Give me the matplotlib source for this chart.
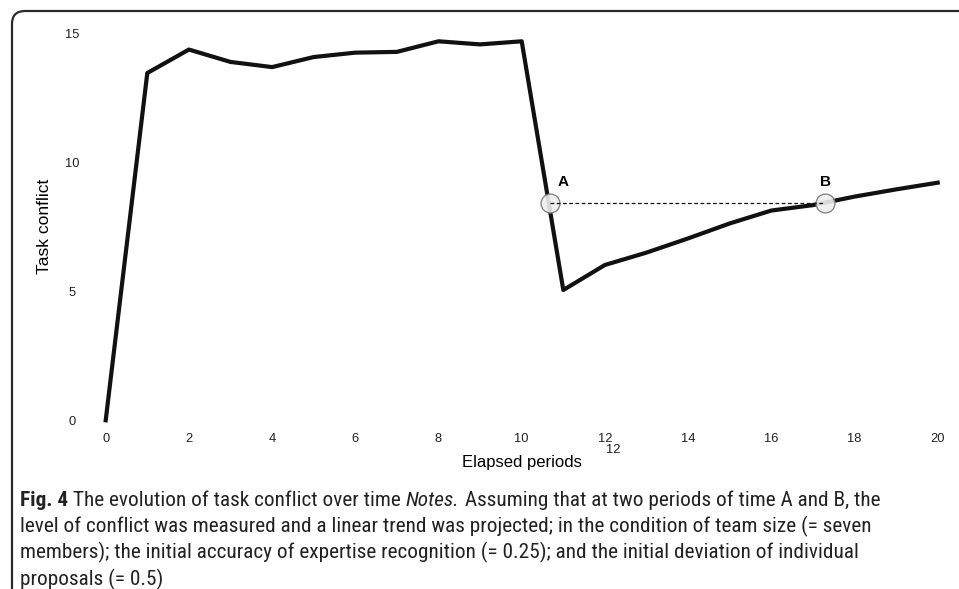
import numpy as np
import matplotlib
matplotlib.use('Agg')
import matplotlib.pyplot as plt
import matplotlib.transforms as mtransforms
from matplotlib.patches import FancyBboxPatch

# data
periods = np.arange(0, 21)
conflict = [0, 13.46, 14.37, 13.89, 13.69, 14.08, 14.25, 14.28, 14.69, 14.57,
            14.69, 5.05, 6.02, 6.5, 7.05, 7.63, 8.13, 8.34, 8.67, 8.95, 9.21]
xticks = np.arange(0, 21, 2)
yticks = [0, 5, 10, 15]
point_labels = ['A', 'B']
point_x = [10.68, 17.3]
point_y = [8.41, 8.41]

caption = [
    [("Fig. 4", "bold", "normal"), (" The evolution of task conflict over time ", "normal", "normal"),
     ("Notes.", "normal", "italic"),
     (" Assuming that at two periods of time A and B, the", "normal", "normal")],
    [("level of conflict was measured and a linear trend was projected; in the condition of team size (= seven",
      "normal", "normal")],
    [("members); the initial accuracy of expertise recognition (= 0.25); and the initial deviation of individual",
      "normal", "normal")],
    [("proposals (= 0.5)", "normal", "normal")],
]

plt.rcParams['font.family'] = ['Liberation Sans', 'DejaVu Sans']

W, H = 959, 589
fig = plt.figure(figsize=(W / 100, H / 100), dpi=100)

# rounded frame (only top-left corner visible)
frame = FancyBboxPatch((0.12, -0.5), 10.5, 6.28, boxstyle="round,pad=0,rounding_size=0.13",
                       transform=fig.dpi_scale_trans, facecolor='none',
                       edgecolor='#2a2a2a', lw=1.6)
fig.patches.append(frame)

ax = fig.add_axes([105.7 / W, (H - 420.3) / H, 832 / W, 387 / H])
ax.plot(periods, conflict, color='#111111', lw=3, clip_on=False, zorder=3)
ax.scatter(point_x, point_y, s=185, facecolor='#eeeeee', edgecolor='#7a7a7a',
           lw=1, zorder=4, alpha=0.9)
ax.plot(point_x, point_y, color='#111111', lw=0.9, ls=(0, (3, 2)), zorder=5)
for lab, px, py, dx in zip(point_labels, point_x, point_y, [9.5, 0]):
    ax.annotate(lab, (px, py), xytext=(dx, 15), textcoords='offset points',
                ha='center', va='center', fontsize=11, fontweight='bold')

ax.set_xlim(0, 20)
ax.set_ylim(0, 15)
for s in ax.spines.values():
    s.set_visible(False)
ax.set_xticks(xticks)
ax.set_yticks(yticks)
ax.tick_params(axis='x', length=0, pad=9, labelsize=9.3, colors='#222222')
ax.tick_params(axis='y', length=0, pad=24.3, labelsize=9.3, colors='#222222')
for t in ax.get_yticklabels():
    t.set_horizontalalignment('center')

# stray extra "12" under the tick
trans = mtransforms.blended_transform_factory(ax.transData, ax.transAxes)
ax.text(12.2, -0.078, "12", transform=trans, ha='center', va='center',
        fontsize=9.3, color='#222222')

ax.set_xlabel("Elapsed periods", fontsize=12)
ax.xaxis.set_label_coords(0.5, -(455 - 420.3) / 387)
ax.xaxis.label.set_va('top')
ax.set_ylabel("Task conflict", fontsize=12.5)
ax.yaxis.set_label_coords((44.5 - 105.7) / 832, 0.5)
ax.yaxis.label.set_va('center')

# caption with mixed styles
cap_fam = ['Liberation Sans Narrow', 'Roboto Condensed', 'DejaVu Sans Condensed',
           'Noto Sans', 'Open Sans']
renderer = fig.canvas.get_renderer()
target_w = 905.0
probe = fig.text(0, 0, "".join(s[0] for s in caption[0]), fontsize=10,
                 family=cap_fam, fontstretch='condensed')
w10 = probe.get_window_extent(renderer).width
probe.remove()
cap_size = 0.94 * 10 * target_w / w10
baselines = [505.5, 532, 558.5, 585]
for line, yb in zip(caption, baselines):
    x = 20.0
    for txt, wt, st in line:
        t = fig.text(x / W, (H - yb) / H, txt, fontsize=cap_size, fontweight=wt,
                     fontstyle=st, family=cap_fam, fontstretch='condensed',
                     va='baseline', ha='left', color='#222222')
        x += t.get_window_extent(renderer).width

fig.savefig('out.png', dpi=100)
